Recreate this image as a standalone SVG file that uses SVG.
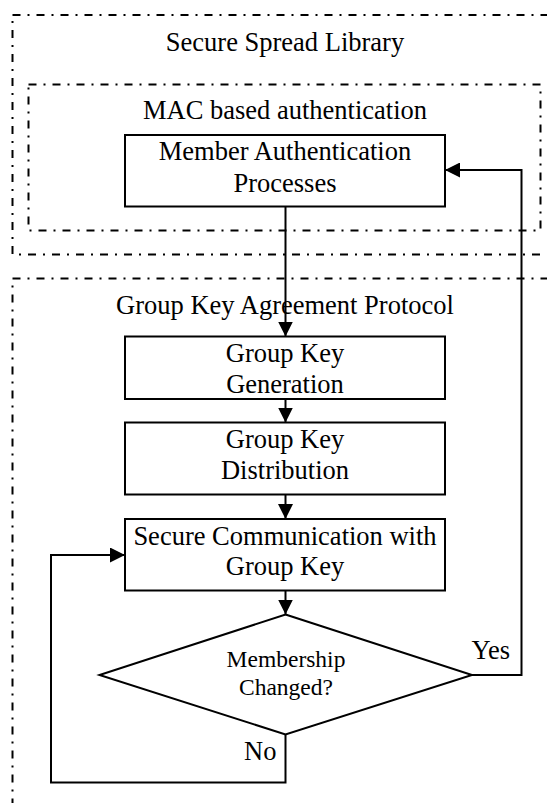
<svg xmlns="http://www.w3.org/2000/svg" width="547" height="803" viewBox="0 0 547 803">
  <style>
    .frame { fill: none; stroke: #000; stroke-width: 2; stroke-dasharray: 8 7 2 7; }
    .node { fill: #fff; stroke: #000; stroke-width: 2; }
    .edge { fill: none; stroke: #000; stroke-width: 2; marker-end: url(#arrow); }
    text { font-family: "Liberation Serif", "Times New Roman", serif; font-size: 26.5px; fill: #000; text-anchor: middle; }
    .small { font-size: 23.5px; }
    .left { text-anchor: start; }
  </style>
  <defs>
    <marker id="arrow" markerUnits="userSpaceOnUse" markerWidth="15" markerHeight="15" refX="15" refY="7.5" orient="auto">
      <path d="M0,0 L15,7.5 L0,15 Z" fill="#000"/>
    </marker>
  </defs>

  <rect width="547" height="803" fill="#fff"/>

  <!-- Enclosing layers (dash-dot frames) -->
  <g id="layer-library">
    <rect class="frame" x="12.5" y="15" width="600" height="239.5"/>
    <text x="285" y="50.5">Secure Spread Library</text>
  </g>
  <g id="layer-mac">
    <rect class="frame" x="28.5" y="84.5" width="512" height="146"/>
    <text x="285" y="119">MAC based authentication</text>
  </g>
  <g id="layer-gka">
    <rect class="frame" x="12.5" y="278.5" width="600" height="600"/>
    <text x="285" y="314">Group Key Agreement Protocol</text>
  </g>

  <!-- Connectors -->
  <g id="connectors">
    <path class="edge" d="M285.5 206.5 V336.5"/>
    <path class="edge" d="M285.5 399 V422.5"/>
    <path class="edge" d="M285.5 494.5 V519"/>
    <path class="edge" d="M285.5 590.5 V614.5"/>
    <path class="edge" d="M472 675 H521.5 V170 H445"/>
    <path class="edge" d="M285.5 734.5 V782.5 H51 V555 H125"/>
  </g>

  <!-- Process nodes -->
  <g id="member-auth">
    <rect class="node" x="125" y="135" width="320" height="71.5"/>
    <text x="285" y="159.5">Member Authentication</text>
    <text x="285" y="191.5">Processes</text>
  </g>
  <g id="key-generation">
    <rect class="node" x="125" y="336.5" width="320" height="62.5"/>
    <text x="285" y="362">Group Key</text>
    <text x="285" y="392.5">Generation</text>
  </g>
  <g id="key-distribution">
    <rect class="node" x="125" y="422.5" width="320" height="72"/>
    <text x="285" y="447.5">Group Key</text>
    <text x="285" y="479">Distribution</text>
  </g>
  <g id="secure-comm">
    <rect class="node" x="125" y="519" width="320" height="71.5"/>
    <text x="285" y="545">Secure Communication with</text>
    <text x="285" y="575">Group Key</text>
  </g>
  <g id="membership-check">
    <polygon class="node" points="285.5,614.5 472,675 285.5,734.5 99.5,675"/>
    <text class="small" x="286" y="667">Membership</text>
    <text class="small" x="286" y="695">Changed?</text>
  </g>

  <!-- Branch labels -->
  <g id="labels">
    <text class="left" x="471.5" y="659">Yes</text>
    <text class="left" x="244" y="760">No</text>
  </g>
</svg>
